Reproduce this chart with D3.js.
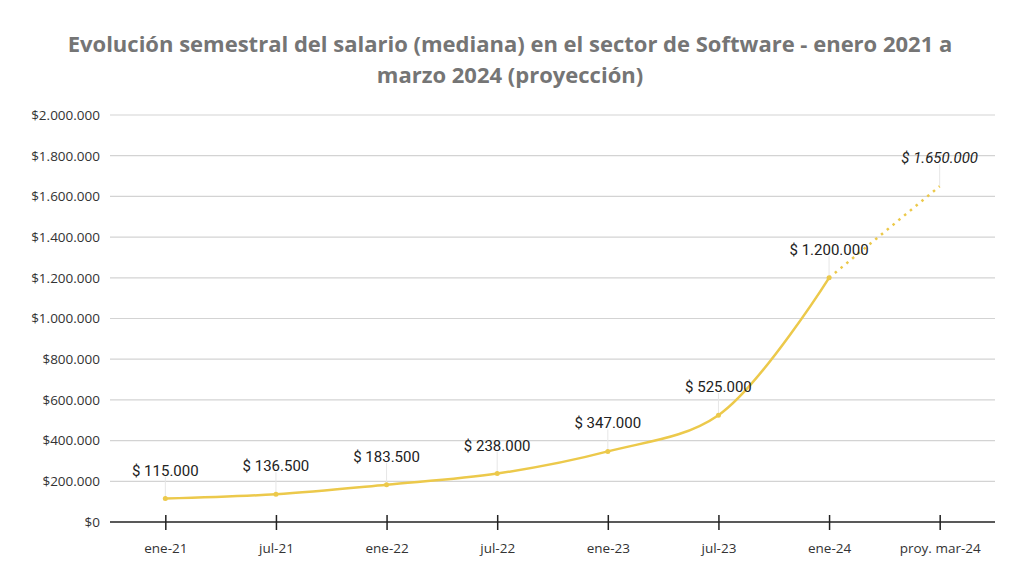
<!DOCTYPE html>
<html><head><meta charset="utf-8">
<script src="https://cdn.jsdelivr.net/npm/d3@7"></script>
<style>body{margin:0;background:#fff}</style>
</head><body>
<svg id="c" width="1024" height="584"></svg>
<script>
const categories = ["ene-21","jul-21","ene-22","jul-22","ene-23","jul-23","ene-24","proy. mar-24"];
const salaries = [115000,136500,183500,238000,347000,525000,1200000,1650000];
const valueLabels = ["$ 115.000","$ 136.500","$ 183.500","$ 238.000","$ 347.000","$ 525.000","$ 1.200.000","$ 1.650.000"];
const yTicks = [0,200000,400000,600000,800000,1000000,1200000,1400000,1600000,1800000,2000000];
const titleLines = ["Evolución semestral del salario (mediana) en el sector de Software - enero 2021 a","marzo 2024 (proyección)"];

const svg = d3.select("#c");
const L = 110, R = 995, T = 115, B = 522;
const x = d3.scalePoint().domain(categories).range([L, R]).padding(0.5);
const y = d3.scaleLinear().domain([0, 2000000]).range([B, T]);
const fmt = v => "$" + d3.format(",")(v).replace(/,/g, ".");
const color = "#ECC94B";

svg.append("g").selectAll("text").data(titleLines).join("text")
  .attr("x", 510).attr("y", (d,i) => 52 + i*31)
  .attr("text-anchor","middle").attr("fill","#757575")
  .attr("font-family","'Open Sans', sans-serif").attr("font-weight","bold")
  .attr("font-size", 22).text(d => d);

// gridlines
svg.append("g").selectAll("line").data(yTicks.slice(1)).join("line")
  .attr("x1", L).attr("x2", R).attr("y1", d => y(d)).attr("y2", d => y(d))
  .attr("stroke","#d3d3d3").attr("stroke-width",1.2);

// y axis labels
const yAxis = d3.axisLeft(y).tickValues(yTicks).tickFormat(fmt).tickSize(0).tickPadding(10);
const gy = svg.append("g").attr("transform",`translate(${L},0)`).call(yAxis);
gy.select(".domain").remove();
gy.selectAll("text").attr("font-family","'Open Sans', sans-serif").attr("font-size",13.5).attr("fill","#333");

// x axis
const xAxis = d3.axisBottom(x).tickSize(7).tickPadding(14);
const gx = svg.append("g").attr("transform",`translate(0,${B})`).call(xAxis);
gx.select(".domain").attr("d", `M${L},0H${R}`).attr("stroke","#222").attr("stroke-width",1.5);
gx.selectAll(".tick line").attr("y1",-7).attr("y2",8).attr("stroke","#222").attr("stroke-width",1.5);
gx.selectAll("text").attr("font-family","'Open Sans', sans-serif").attr("font-size",13.5).attr("fill","#333");

const pts = categories.map((c,i) => [x(c), y(salaries[i])]);

// leader lines
svg.append("g").selectAll("line").data(pts).join("line")
  .attr("x1", d => d[0]).attr("x2", d => d[0])
  .attr("y1", d => d[1] - 22).attr("y2", d => d[1])
  .attr("stroke","#e6e6e6").attr("stroke-width",1);

const line = d3.line().curve(d3.curveCatmullRom.alpha(0.5));
svg.append("path").attr("d", line(pts.slice(0,7)))
  .attr("fill","none").attr("stroke",color).attr("stroke-width",2.5);
svg.append("path").attr("d", d3.line()(pts.slice(6)))
  .attr("fill","none").attr("stroke",color).attr("stroke-width",2.5)
  .attr("stroke-dasharray","2.5,5");

svg.append("g").selectAll("circle").data(pts.slice(0,7)).join("circle")
  .attr("cx", d => d[0]).attr("cy", d => d[1]).attr("r", 2.5).attr("fill", color);

svg.append("g").selectAll("text").data(pts).join("text")
  .attr("x", d => d[0]).attr("y", d => d[1] - 23)
  .attr("text-anchor","middle").attr("fill","#222")
  .attr("font-family","Roboto, sans-serif").attr("font-size",15)
  .attr("font-style",(d,i) => i === 7 ? "italic" : "normal")
  .text((d,i) => valueLabels[i]);
</script>
</body></html>
